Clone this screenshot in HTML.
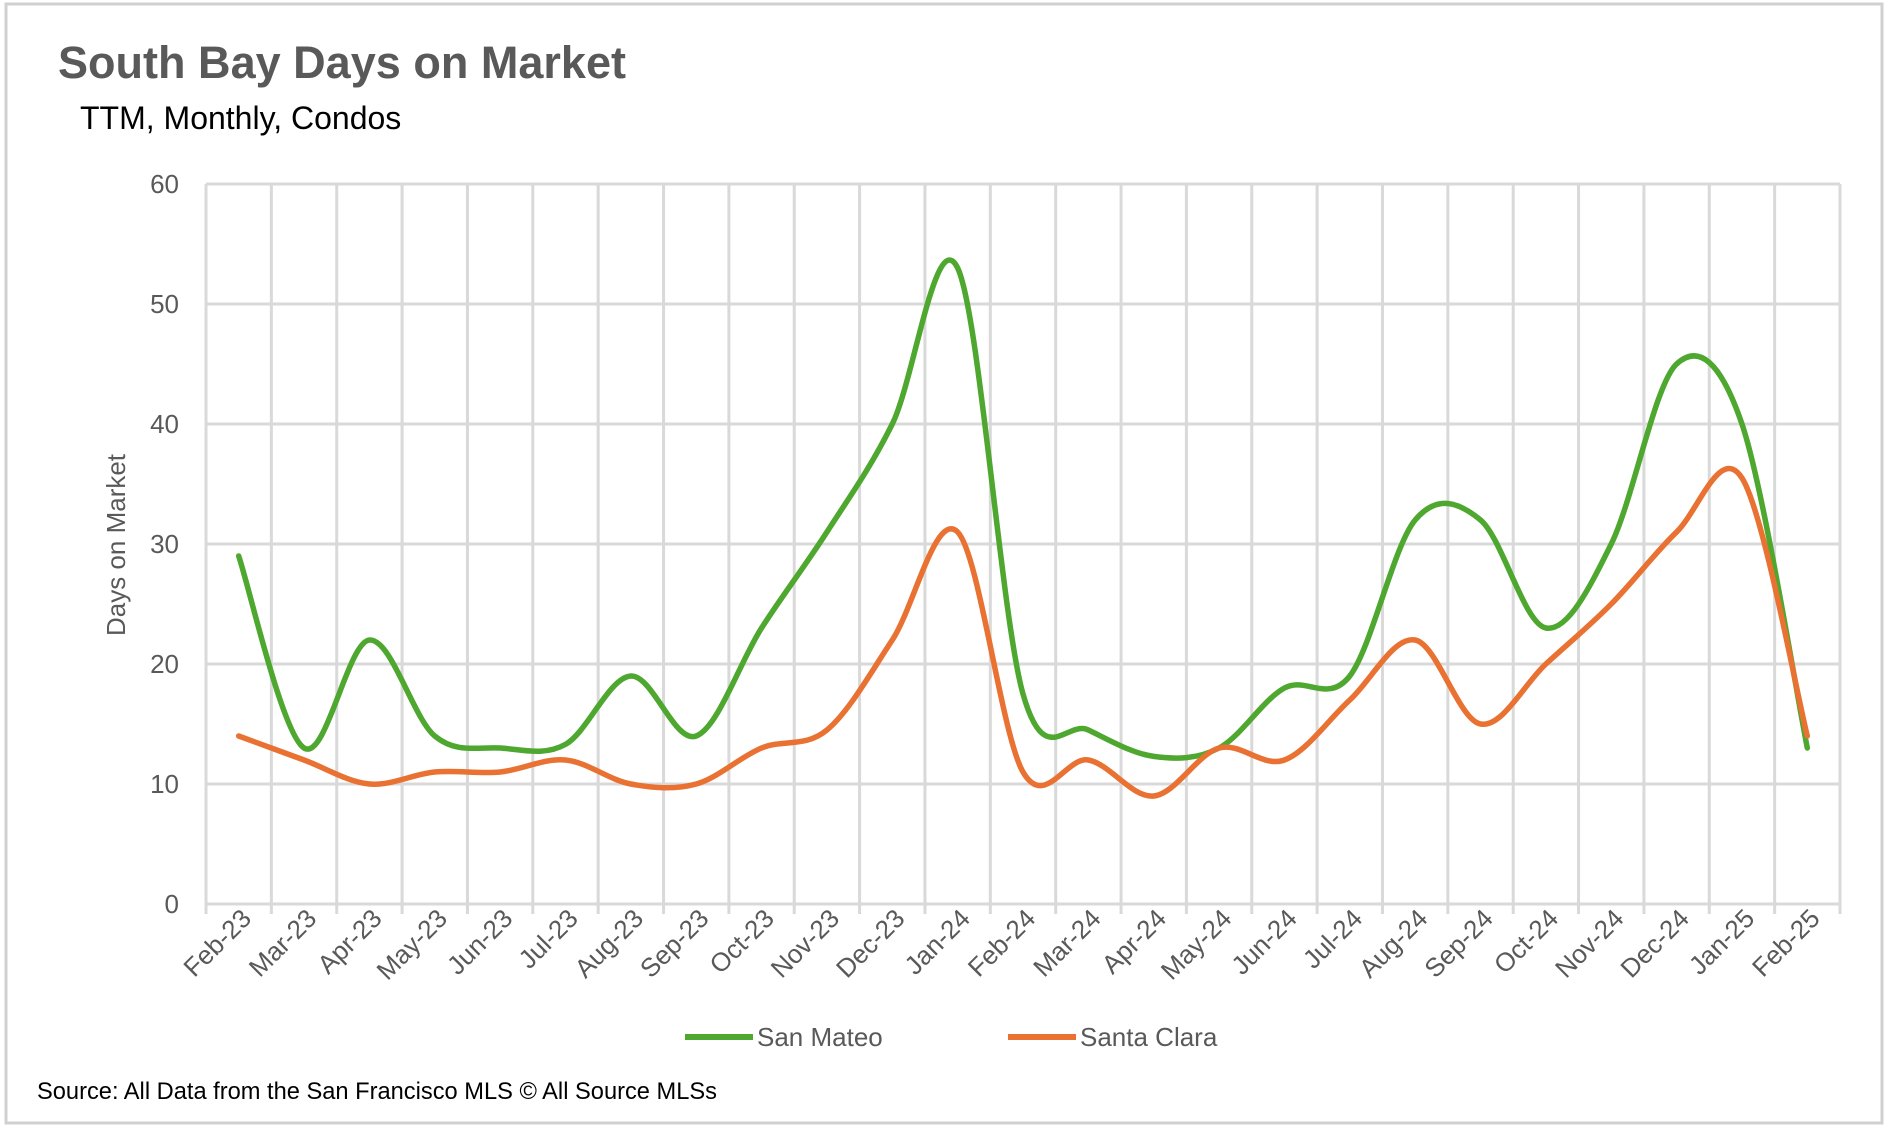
<!DOCTYPE html>
<html><head><meta charset="utf-8"><style>
body{margin:0;background:#fff;}
svg{display:block;font-family:"Liberation Sans Narrow","Liberation Sans",sans-serif;}
</style></head><body>
<svg id="c" width="1888" height="1128" viewBox="0 0 1888 1128">
<rect x="6" y="4" width="1876" height="1119" fill="#fff" stroke="#d0d0d0" stroke-width="3"/>
<text x="58" y="78" font-size="45" font-weight="bold" fill="#595959" textLength="568" lengthAdjust="spacingAndGlyphs">South Bay Days on Market</text>
<text x="80" y="129" font-size="32" fill="#000">TTM, Monthly, Condos</text>
<g id="grid"></g><g id="series"></g><g id="labels"></g>
<text transform="translate(125,545) rotate(-90)" text-anchor="middle" font-family="Liberation Sans, sans-serif" font-size="26" fill="#595959">Days on Market</text>
<line x1="685" y1="1037" x2="753" y2="1037" stroke="#4ea72e" stroke-width="6"/>
<text x="757" y="1046" font-size="26" fill="#595959">San Mateo</text>
<line x1="1008" y1="1037" x2="1076" y2="1037" stroke="#e97132" stroke-width="6"/>
<text x="1080" y="1046" font-size="26" fill="#595959">Santa Clara</text>
<text x="37" y="1099" font-size="24" fill="#000" textLength="680" lengthAdjust="spacingAndGlyphs">Source: All Data from the San Francisco MLS © All Source MLSs</text>
</svg>
<script>
const categories=["Feb-23","Mar-23","Apr-23","May-23","Jun-23","Jul-23","Aug-23","Sep-23","Oct-23","Nov-23","Dec-23","Jan-24","Feb-24","Mar-24","Apr-24","May-24","Jun-24","Jul-24","Aug-24","Sep-24","Oct-24","Nov-24","Dec-24","Jan-25","Feb-25"];
const sanMateo=[29,13,22,14,13,13.3,19,14,23,31,40,53,17.5,14.5,12.3,13,18,19,32,32,23,30,45,40,13];
const santaClara=[14,12,10,11,11,12,10,10,13,14.5,22,31,11,12,9,13,12,17,22,15,20,25,31,35.5,14];
const yTicks=[0,10,20,30,40,50,60];
const NS="http://www.w3.org/2000/svg";
const L=206,R=1840,T=184,B=904,yMax=60;
const bw=(R-L)/categories.length;
const xs=i=>L+bw*(i+0.5);
const ys=v=>B-(v/yMax)*(B-T);
function mk(tag,attrs,parent){const e=document.createElementNS(NS,tag);for(const k in attrs)e.setAttribute(k,attrs[k]);parent.appendChild(e);return e;}
const grid=document.getElementById('grid'),labels=document.getElementById('labels'),series=document.getElementById('series');
yTicks.forEach(t=>{
  const l=mk('line',{x1:L,x2:R,y1:ys(t),y2:ys(t),stroke:'#d9d9d9','stroke-width':3},grid);
  
  
  const tx=mk('text',{x:179,y:ys(t)+9,'text-anchor':'end','font-size':26,fill:'#595959','font-family':'Liberation Sans, sans-serif'},labels);
  tx.textContent=t;
  
  
});
for(let i=0;i<=categories.length;i++){
  const x=L+bw*i;
  const l=mk('line',{x1:x,x2:x,y1:T,y2:B+10,stroke:'#d9d9d9','stroke-width':3},grid);
  
  
}
categories.forEach((c,i)=>{
  const x=xs(i)+14,y=920;
  const tx=mk('text',{x:x,y:y,'text-anchor':'end','font-size':26,fill:'#595959',transform:`rotate(-45 ${x} ${y})`},labels);
  tx.textContent=c;
  
  
});
function smooth(vals){
  const p=vals.map((v,i)=>[xs(i),ys(v)]);
  let d=`M${p[0][0]},${p[0][1]}`;
  for(let i=0;i<p.length-1;i++){
    const p0=p[i-1]||p[i],p1=p[i],p2=p[i+1],p3=p[i+2]||p[i+1];
    const c1=[p1[0]+(p2[0]-p0[0])/6,p1[1]+(p2[1]-p0[1])/6];
    const c2=[p2[0]-(p3[0]-p1[0])/6,p2[1]-(p3[1]-p1[1])/6];
    d+=` C${c1[0]},${c1[1]} ${c2[0]},${c2[1]} ${p2[0]},${p2[1]}`;
  }
  return d;
}
const sm=mk('path',{d:smooth(sanMateo),fill:'none',stroke:'#4ea72e','stroke-width':5.5,'stroke-linejoin':'round','stroke-linecap':'round'},series);


const sc=mk('path',{d:smooth(santaClara),fill:'none',stroke:'#e97132','stroke-width':5.5,'stroke-linejoin':'round','stroke-linecap':'round'},series);


</script>
</body></html>
